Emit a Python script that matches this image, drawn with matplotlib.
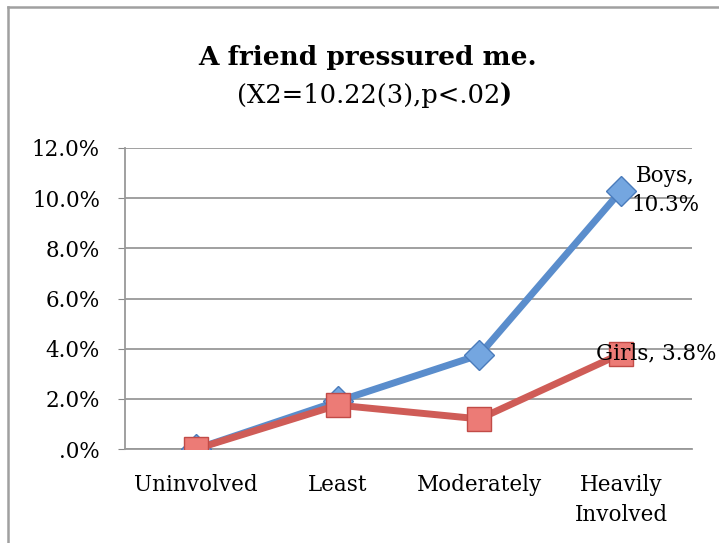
import matplotlib.pyplot as plt
from matplotlib.lines import Line2D
from matplotlib.ticker import FuncFormatter

categories = ["Uninvolved", "Least", "Moderately", "Heavily\nInvolved"]
boys = [0.0, 1.9, 3.75, 10.3]
girls = [0.0, 1.75, 1.2, 3.8]
yticks = [0, 2, 4, 6, 8, 10, 12]

plt.rcParams['font.family'] = ['DejaVu Serif']
fontsize = 15.5

fig = plt.figure(figsize=(7.19, 5.43), dpi=100)
W, H = 719, 543

# outer chart frame (only top and left edges are visible)
fig.add_artist(Line2D([8 / W, 8 / W], [0, 1 - 7 / H], color='#a0a0a0', lw=1.8, transform=fig.transFigure))
fig.add_artist(Line2D([8 / W, 1], [1 - 7 / H, 1 - 7 / H], color='#a0a0a0', lw=1.8, transform=fig.transFigure))

ax = fig.add_axes([125 / W, 1 - 449 / H, 567 / W, 301 / H])
x = list(range(len(categories)))

ax.plot(x, boys, color='#5a8dcc', lw=5, marker='D', markersize=15,
        markerfacecolor='#74a6e0', markeredgecolor='#4a7bbb', markeredgewidth=1, zorder=3)
ax.plot(x, girls, color='#cf5c57', lw=5, marker='s', markersize=17,
        markerfacecolor='#ec7b76', markeredgecolor='#c14b47', markeredgewidth=1, zorder=4)

ax.set_xlim(-0.5, len(categories) - 0.5)
ax.set_ylim(0, 12)
ax.set_yticks(yticks)
ax.yaxis.set_major_formatter(FuncFormatter(lambda v, p: '.0%' if v == 0 else f'{v:.1f}%'))
ax.set_xticks(x)
ax.set_xticklabels(categories, fontsize=fontsize, linespacing=1.45)
ax.tick_params(axis='y', labelsize=fontsize, length=5, color='#888888', pad=13)
ax.tick_params(axis='x', length=0, pad=18)
ax.grid(axis='y', color='#999999', lw=1.3)
ax.set_axisbelow(True)
for s in ['top', 'right']:
    ax.spines[s].set_visible(False)
for s in ['left', 'bottom']:
    ax.spines[s].set_color('#999999')
    ax.spines[s].set_linewidth(1.3)

ax.annotate(f'Boys,\n{boys[-1]:.1f}%', (x[-1], boys[-1]), xytext=(32, 0), textcoords='offset points',
            ha='center', va='center', fontsize=fontsize, linespacing=1.45, zorder=5,
            annotation_clip=False)
ax.annotate(f'Girls, {girls[-1]:.1f}%', (x[-1], girls[-1]), xytext=(-18, 0), textcoords='offset points',
            ha='left', va='center', fontsize=fontsize, zorder=5, annotation_clip=False)

fig.text(368 / W, 1 - 58 / H, 'A friend pressured me.', ha='center', va='center',
         fontsize=19, fontweight='bold')
fig.text(500 / W, 1 - 95 / H, '(X2=10.22(3),p<.02', ha='right', va='center', fontsize=18.5)
fig.text(500 / W, 1 - 95 / H, ')', ha='left', va='center', fontsize=18.5, fontweight='bold')

plt.savefig('out.png', dpi=100)
